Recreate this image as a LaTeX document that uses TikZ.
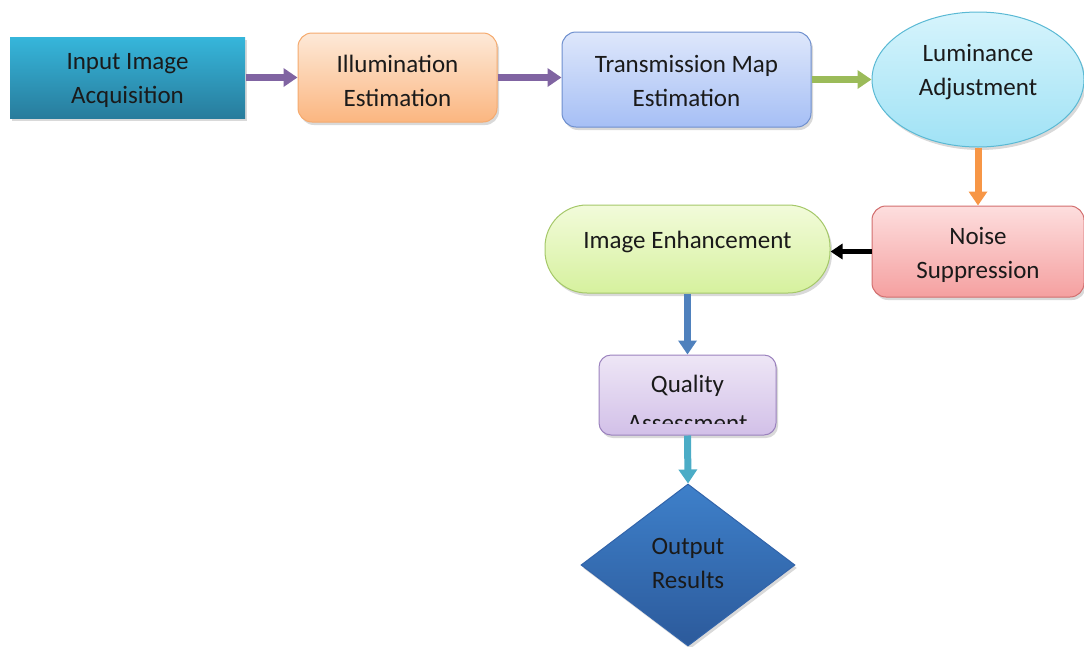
\documentclass[tikz,border=0pt]{standalone}
\usepackage{fontspec}
\setmainfont{Carlito}
\usetikzlibrary{shapes.geometric,arrows.meta,shadows}
\definecolor{txtc}{HTML}{1A1A1A}
\definecolor{inpT}{HTML}{36B6DB}\definecolor{inpB}{HTML}{287C9C}
\definecolor{illD}{HTML}{F5AA6E}\definecolor{illT}{HTML}{FDE9D8}\definecolor{illB}{HTML}{FBB680}
\definecolor{traD}{HTML}{6E8FCE}\definecolor{traT}{HTML}{DEE7FB}\definecolor{traB}{HTML}{A6BFF5}
\definecolor{lumD}{HTML}{5AB9D4}\definecolor{lumT}{HTML}{D6F4FC}\definecolor{lumB}{HTML}{A0E2F5}
\definecolor{noiD}{HTML}{D26E6E}\definecolor{noiT}{HTML}{FDDEDE}\definecolor{noiB}{HTML}{F5A0A0}
\definecolor{enhD}{HTML}{A5C869}\definecolor{enhT}{HTML}{F2FBDA}\definecolor{enhB}{HTML}{D6F19E}
\definecolor{quaD}{HTML}{9B82BE}\definecolor{quaT}{HTML}{EEE6F6}\definecolor{quaB}{HTML}{D2C0E8}
\definecolor{outD}{HTML}{3264AA}\definecolor{outT}{HTML}{3E80CA}\definecolor{outB}{HTML}{2C5A9B}
\definecolor{arP}{HTML}{8064A2}\definecolor{arG}{HTML}{9BBB59}\definecolor{arO}{HTML}{F79646}
\definecolor{arB}{HTML}{4F81BD}\definecolor{arT}{HTML}{4BACC6}
\tikzset{
  box/.style={draw, line width=1pt, inner sep=0pt,
    drop shadow={shadow xshift=2pt, shadow yshift=-3pt, opacity=.3}},
  txt/.style={inner sep=0pt, align=center, text=txtc, font=\fontsize{25}{34}\selectfont},
  conn/.style={line width=7pt, -{Triangle[width=18pt,length=14pt]}},
}
\begin{document}
\begin{tikzpicture}[x=1pt,y=-1pt]
\useasboundingbox (0,0) rectangle (1084,646);
% nodes
\node[box, rectangle, draw=none, top color=inpT, bottom color=inpB,
  minimum width=235pt, minimum height=81pt] (inp) at (127.5,77.5) {};
\node[txt] (inpt) at (127.5,80) {Input Image\\Acquisition};
\node[box, rounded corners=14pt, draw=illD, top color=illT, bottom color=illB,
  minimum width=199pt, minimum height=89pt] (ill) at (397.5,77.5) {};
\node[txt] (illt) at (397.5,81) {Illumination\\Estimation};
\node[box, rounded corners=14pt, draw=traD, top color=traT, bottom color=traB,
  minimum width=249pt, minimum height=95pt] (tra) at (686.5,79.5) {};
\node[txt] (trat) at (686.5,80.5) {Transmission Map\\Estimation};
\node[box, ellipse, draw=lumD, top color=lumT, bottom color=lumB,
  minimum width=212pt, minimum height=135pt] (lum) at (978,79.5) {};
\node[txt] (lumt) at (978,72.5) {Luminance\\Adjustment};
\node[box, rounded corners=14pt, draw=noiD, top color=noiT, bottom color=noiB,
  minimum width=212pt, minimum height=91pt] (noi) at (978,251.5) {};
\node[txt] (noit) at (978,254.5) {Noise\\Suppression};
\node[box, rounded corners=42pt, draw=enhD, top color=enhT, bottom color=enhB,
  minimum width=285pt, minimum height=88pt] (enh) at (687.5,249) {};
\node[txt] (enht) at (687.5,241.5) {Image Enhancement};
\node[box, rounded corners=12pt, draw=quaD, top color=quaT, bottom color=quaB,
  minimum width=177pt, minimum height=80pt] (qua) at (687.5,395) {};
\node[txt] (quat) at (687.5,385.5) {Quality};
\begin{scope}
  \clip (600,400) rectangle (776,423.5);
  \node[txt] (quat2) at (687.5,424) {Assessment};
\end{scope}
\node[box, diamond, draw=outD, top color=outT, bottom color=outB,
  minimum width=214pt, minimum height=162pt] (out) at (688,565) {};
\node[txt] (outt) at (688,563.5) {Output\\Results};
% connectors
\draw[conn, color=arP] (inp.east) -- (ill.west);
\draw[conn, color=arP] (ill.east) -- (ill.east -| tra.west);
\draw[conn, color=arG] (tra.east) -- (tra.east -| lum.west);
\draw[conn, color=arO] (lum.south) -- (lum.south |- noi.north);
\draw[conn, line width=5pt, color=black, -{Triangle[width=15pt,length=12pt]}] (noi.west) -- (noi.west -| enh.east);
\draw[conn, color=arB] (enh.south) -- (enh.south |- qua.north);
\draw[conn, color=arT] (qua.south) -- (out.north);
\end{tikzpicture}
\end{document}
